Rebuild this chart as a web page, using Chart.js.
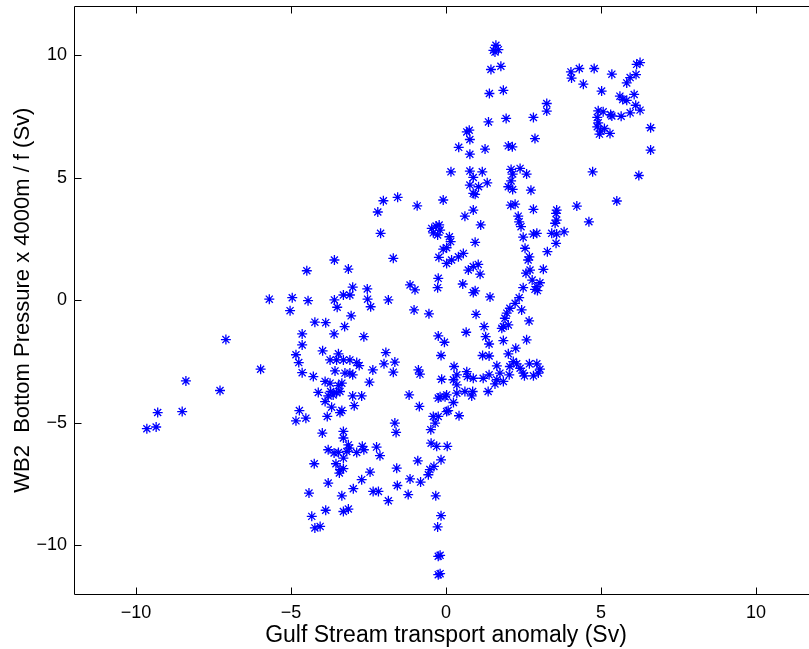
<!DOCTYPE html>
<html>
<head>
<meta charset="utf-8">
<script src="https://cdn.jsdelivr.net/npm/chart.js@4.4.1/dist/chart.umd.min.js"></script>
<style>
  html, body { margin: 0; padding: 0; background: #fff; overflow: hidden; }
  #wrap { width: 830px; height: 649px; }
</style>
</head>
<body>
<div id="wrap"><canvas id="scatterChart"></canvas></div>
<script>
// tick positions
const xTicks = [-10, -5, 0, 5, 10];
const yTicks = [-10, -5, 0, 5, 10];

// Gulf Stream transport anomaly (Sv)
const transport = [
  1.61, 1.58, 1.69, 1.53, 1.45, 1.77, 1.40, 1.85, 1.37, 1.94,
  2.82, 3.25, 3.25, 2.87, 2.01, 2.14, 2.10, 2.39, 2.60, 2.15,
  2.10, 2.01, 2.15, 2.74, 2.09, 2.23, 2.82, 3.57, 4.22, 5.51,
  4.73, 6.22, 6.60, 6.60, 4.03, 4.05, 4.30, 4.78, 4.43, 5.02,
  5.35, 5.83, 5.94, 6.13, 6.15, 6.26, 5.61, 5.70, 5.83, 6.07,
  6.12, 6.26, 4.91, 5.07, 5.31, 5.35, 5.65, 5.94, 4.88, 4.91,
  4.88, 4.99, 5.11, 5.29, 4.95,
  0.67, 0.75, 0.77, 0.41, 0.77, 1.26, 0.16, 0.77, 1.17, 0.88,
  0.77, 1.05, 1.33, 0.88, 0.94, -2.02, -1.56, -0.93, -0.09, 0.88,
  -2.20, -2.11, -3.60, -3.15, -4.49, -1.70, -0.46, -0.32, -0.22, -0.41,
  -0.27, -0.19, 0.11, 0.15, 0.61, 1.12, 0.94, -0.09, 0.02, -0.23,
  0.02, 0.18, 0.40, 0.56, 0.72, 0.88, 1.04, 1.10, -0.25, -0.27,
  0.54, 0.88, 0.94, 1.42, -1.16, -1.00, -3.01, -3.10, -3.31, -3.60,
  -3.51, -2.54, -2.53, -2.43, -1.86, -4.45, -1.03, -0.55, 0.97, -3.06,
  -4.23, -3.88, -3.27, -3.61, -2.65, 0.65, 1.23, -0.25, -0.05, 1.28,
  1.39, -0.16, 1.18, 1.39, -3.98, -1.94, -1.65, -2.00, -1.70, -2.36,
  -3.47, -3.74, -3.53, -3.31, -3.10, -2.88, -2.80, -3.58, -3.10, -3.26,
  -3.01, -4.28, -3.90, -3.74, -3.36, -3.47, -2.47, -0.89, -0.84, 0.26,
  0.35, 0.24, 0.35, 0.67, 0.69, 0.88, -0.14, 1.20, 1.39,
  -5.70, -4.96, -5.03, -7.10, -4.64, -4.64, -4.84, -4.75, -4.64, -5.98,
  -8.39, -7.29,
  2.33, 2.36, 2.42, 3.55, 3.57, 3.52, 4.61, 2.49, 2.82, 2.93,
  3.41, 3.57, 3.81, 3.55, 3.27, 2.55, 2.69, 2.65, 2.71, 2.58,
  3.14, 2.78, 3.03, 2.87, 2.95, 2.93, 2.49, 2.36, 2.23, 2.06,
  1.96, 1.90, 1.85, 2.01, 1.80, 2.44, 2.68, 1.85, 2.60, 2.25,
  2.01, 1.64, 2.17, 2.28, 2.06, 2.39, 2.49, 2.04, 2.69, 2.93,
  3.03, 2.98, 2.82, 2.53, 1.74, 1.64, 1.85, 1.58,
  -9.30, -8.51, -9.65, -9.35, -4.73, -4.84, -4.52, -4.42, -4.33,
  -4.12, -3.80, -3.64, -3.53, -3.42, -3.72, -3.90, -3.69, -3.42, -3.36,
  -3.83, -3.01, -2.72, -2.96, -3.99, -3.31, -3.31, -3.80, -3.47, -3.61,
  -3.15, -3.12, -3.20, -2.88, -2.70, -2.65, -2.24, -2.13, -3.31, -4.25,
  -3.55, -3.42, -3.31, -3.44, -2.45, -2.72, -2.99, -3.80, -3.36, -2.35,
  -2.18, -1.86, -3.88, -3.31, -3.15, -4.23, -4.06, -1.65, -1.61, -1.19,
  -0.86, -1.59, -1.57, -1.22, -1.16, -0.82, -0.91, -0.52, -0.57, -0.39,
  -0.16, -0.48, -0.30, 0.04, -0.49, -0.35, -0.41, -0.25, 0.02, 0.07,
  0.42, 0.24, -0.19, -0.03, -0.25, 0.02, 0.35, 0.61, 0.83, 0.86,
  -0.33, -0.16, -0.27, -0.19, -0.25, -0.19, -0.25, 1.36
];

// WB2 bottom pressure x 4000m / f (Sv)
const bottomPressure = [
  10.41, 10.13, 10.23, 10.20, 9.42, 9.55, 8.44, 8.57, 7.28, 7.42,
  7.46, 8.03, 7.72, 6.60, 6.30, 6.26, 5.34, 5.38, 5.15, 5.15,
  4.87, 4.63, 4.52, 4.49, 3.88, 3.92, 3.71, 3.68, 3.84, 4.05,
  5.24, 5.09, 7.04, 6.13, 9.32, 9.07, 9.46, 9.46, 8.82, 8.54,
  9.23, 8.87, 9.09, 9.21, 9.63, 9.70, 8.33, 8.19, 8.16, 8.40,
  7.96, 7.76, 7.73, 7.69, 7.58, 7.52, 7.51, 7.65, 7.46, 7.24,
  7.08, 6.90, 7.01, 6.81, 6.78,
  6.87, 6.94, 6.56, 6.24, 5.96, 6.17, 5.24, 5.27, 5.24, 5.01,
  4.70, 4.63, 4.79, 4.36, 4.32, 4.06, 4.20, 3.85, 4.09, 3.68,
  3.60, 2.73, 1.64, 1.27, 1.20, 1.71, 2.93, 3.03, 3.07, 2.75,
  2.66, 2.86, 2.59, 2.39, 3.43, 3.07, 2.36, 2.08, 2.14, 1.75,
  1.50, 1.64, 1.77, 1.91, 1.23, 1.37, 1.46, 1.06, 0.89, 0.51,
  0.66, 0.31, 0.38, 0.13, 0.62, 0.42, 0.53, 0.21, 0.21, 0.01,
  -0.29, 0.46, 0.04, -0.27, 0.01, -0.02, -0.40, -0.56, -0.58, -0.64,
  -0.90, -0.92, -1.08, -1.38, -1.49, -1.31, -1.08, -1.46, -1.72, -1.49,
  -1.79, -2.26, -2.26, -2.28, -2.07, -2.14, -2.53, -2.60, -2.94, -2.85,
  -2.19, -2.44, -2.44, -2.44, -2.44, -2.55, -2.67, -2.89, -2.98, -2.98,
  -3.05, -3.12, -3.32, -3.39, -3.39, -3.49, -3.35, -2.85, -3.02, -2.71,
  -3.05, -3.25, -3.46, -2.92, -3.12, -3.19, -3.23, -3.19, -3.05,
  0.04, 0.10, -0.43, -1.61, -1.38, -1.83, -2.23, -2.55, -2.96, -2.82,
  -3.30, -3.69,
  3.43, 3.20, 3.00, 3.54, 3.27, 3.14, 3.20, 2.57, 2.70, 2.73,
  2.73, 2.70, 2.79, 2.32, 1.98, 2.12, 1.77, 1.64, 1.23, 1.10,
  1.26, 0.82, 0.71, 0.44, 0.39, 0.55, 0.51, 0.10, -0.13, -0.33,
  -0.53, -0.74, -1.08, -1.01, -1.15, -0.40, -0.85, -1.65, -1.62, -1.96,
  -2.19, -2.68, -2.51, -2.60, -2.71, -2.78, -2.98, -3.05, -2.60, -2.60,
  -2.82, -2.98, -3.09, -3.09, -2.98, -3.25, -3.32, -3.42,
  -4.59, -4.55, -5.25, -5.18, -4.51, -4.93, -4.82, -7.88, -8.83,
  -3.77, -3.91, -3.87, -3.77, -3.73, -3.73, -4.14, -4.37, -4.59, -4.51,
  -4.75, -3.91, -3.91, -4.31, -5.43, -5.36, -5.63, -6.11, -6.22, -6.24,
  -5.91, -6.04, -6.18, -6.22, -5.97, -6.11, -6.00, -6.35, -6.45, -6.68,
  -6.68, -6.92, -6.88, -7.06, -7.02, -7.33, -7.70, -7.47, -7.99, -7.81,
  -7.81, -8.19, -8.58, -8.63, -8.53, -9.30, -9.24, -5.02, -5.40, -3.87,
  -4.34, -6.86, -7.57, -7.94, -7.30, -7.43, -6.56, -6.92, -7.13, -6.79,
  -6.52, -5.84, -5.97, -5.97, -5.29, -5.02, -4.75, -4.75, -4.55, -4.51,
  -4.72, -4.18, -3.94, -3.94, -4.00, -3.87, -3.80, -3.73, -3.91, -3.73,
  -7.99, -8.80, -9.26, -10.42, -10.46, -11.17, -11.21, -3.73
];

const points = transport.map((x, i) => ({ x: x, y: bottomPressure[i] }));

// matlab style box with inward ticks on all four sides
const boxTicks = {
  id: 'boxTicks',
  afterDatasetsDraw(chart) {
    const { ctx, chartArea: a, scales } = chart;
    const L = Math.round(a.left) + 0.5, R = Math.round(a.right) + 0.5;
    const T = Math.round(a.top) + 0.5, B = Math.round(a.bottom) + 0.5;
    ctx.save();
    ctx.strokeStyle = '#000';
    ctx.lineWidth = 1;
    ctx.beginPath();
    ctx.rect(L, T, R - L, B - T);
    xTicks.forEach(v => {
      const px = Math.round(scales.x.getPixelForValue(v)) + 0.5;
      ctx.moveTo(px, B); ctx.lineTo(px, B - 7);
      ctx.moveTo(px, T); ctx.lineTo(px, T + 7);
    });
    yTicks.forEach(v => {
      const py = Math.round(scales.y.getPixelForValue(v)) + 0.5;
      ctx.moveTo(L, py); ctx.lineTo(L + 7, py);
      ctx.moveTo(R, py); ctx.lineTo(R - 7, py);
    });
    ctx.stroke();
    ctx.restore();
  }
};

const family = '"Liberation Sans", Arial, Helvetica, sans-serif';
const tickFont = { family: family, size: 18 };
const minus = v => String(v).replace('-', '\u2212');

const ctx = document.getElementById('scatterChart').getContext('2d');
const scatterChart = new Chart(ctx, {
  type: 'scatter',
  data: {
    datasets: [{
      data: points,
      pointStyle: 'star',
      pointRadius: 5,
      pointHoverRadius: 5,
      borderColor: '#0000ff',
      backgroundColor: '#0000ff',
      borderWidth: 1.3
    }]
  },
  options: {
    responsive: true,
    maintainAspectRatio: false,
    animation: false,
    layout: { padding: { left: 0, top: 6, right: 12, bottom: 0 } },
    plugins: {
      legend: { display: false },
      tooltip: { enabled: false }
    },
    scales: {
      x: {
        type: 'linear',
        min: -12,
        max: 12,
        afterBuildTicks: s => { s.ticks = xTicks.map(v => ({ value: v })); },
        afterFit: s => { s.height = 55; s.paddingLeft = 0; s.paddingRight = 0; },
        grid: { display: false, drawTicks: false },
        border: { display: false },
        ticks: { color: '#000', font: tickFont, padding: 8, callback: minus },
        title: {
          display: true,
          text: 'Gulf Stream transport anomaly (Sv)',
          color: '#000',
          font: { family: family, size: 23 },
          padding: { top: 0, bottom: 0 }
        }
      },
      y: {
        type: 'linear',
        min: -12,
        max: 12,
        afterBuildTicks: s => { s.ticks = yTicks.map(v => ({ value: v })); },
        afterFit: s => { s.width = 74; s.paddingTop = 0; s.paddingBottom = 0; },
        grid: { display: false, drawTicks: false },
        border: { display: false },
        ticks: { color: '#000', font: tickFont, padding: 7, callback: minus },
        title: {
          display: true,
          text: 'WB2  Bottom Pressure x 4000m / f (Sv)',
          color: '#000',
          font: { family: family, size: 22 },
          padding: { top: 10, bottom: 0 }
        }
      }
    }
  },
  plugins: [boxTicks]
});
</script>
</body>
</html>
